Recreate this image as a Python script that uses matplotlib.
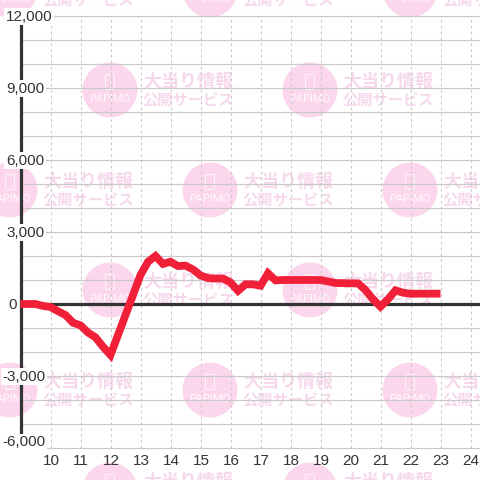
import matplotlib
matplotlib.use("Agg")
import matplotlib.pyplot as plt
from matplotlib.patches import Circle, FancyBboxPatch

hours = [9, 9.25, 9.5, 9.75, 10, 10.25, 10.5, 10.75, 11, 11.25, 11.5, 11.75, 12,
         12.25, 12.5, 12.75, 13, 13.25, 13.5, 13.75, 14, 14.25, 14.5, 14.75, 15,
         15.25, 15.5, 15.75, 16, 16.25, 16.5, 16.75, 17, 17.25, 17.5, 17.75, 18,
         18.25, 18.5, 18.75, 19, 19.25, 19.5, 19.75, 20, 20.25, 20.5, 20.75, 21,
         21.25, 21.5, 21.75, 22, 22.25, 22.5, 22.75, 23]
values = [0, 0, 0, -80, -125, -300, -460, -780, -890, -1190, -1390, -1780, -2125,
          -1290, -460, 375, 1210, 1760, 2000, 1670, 1760, 1580, 1600, 1440, 1190,
          1080, 1060, 1060, 900, 550, 820, 820, 760, 1280, 985, 1000, 1000,
          1000, 1000, 1000, 1000, 940, 875, 870, 860, 860, 580, 195, -110,
          195, 570, 470, 430, 430, 430, 430, 430]
y_ticks = [12000, 9000, 6000, 3000, 0, -3000, -6000]
y_labels = ["12,000", "9,000", "6,000", "3,000", "0", "-3,000", "-6,000"]
x_ticks = list(range(10, 25))
grid_y = list(range(-6000, 13000, 1000))
wm_title = "大当り情報"
wm_sub = "公開サービス"
wm_logo = "PAPIMO"

GRID = "#c9c9c9"
AXIS = "#333333"
RED = "#f02038"
TXT = "#333333"
PINK = "#fbd6ec"
WM_TXT = "#f6d9ec"
CJK = ["Noto Sans CJK JP", "DejaVu Sans"]

fig = plt.figure(figsize=(4.8, 4.8), dpi=100, facecolor="white")

# watermark layer in pixel coordinates
bg = fig.add_axes([0, 0, 1, 1], zorder=0)
bg.set_xlim(0, 480)
bg.set_ylim(480, 0)
bg.axis("off")
for row, cy in enumerate(range(-10, 500, 100)):
    cxs = [10, 210, 410] if row % 2 == 0 else [110, 310]
    for cx in cxs:
        bg.add_patch(Circle((cx, cy), 27.5, fc=PINK, ec="none"))
        bg.add_patch(FancyBboxPatch((cx - 4, cy - 15), 8, 14,
                                    boxstyle="round,pad=0.5,rounding_size=1.5",
                                    fc="none", ec="#fff4fa", lw=0.8))
        bg.text(cx, cy + 9.5, wm_logo, ha="center", va="center", color="#fff8fc",
                fontsize=8.0, family="Roboto")
        bg.text(cx + 78.5, cy - 8.5, wm_title, ha="center", va="center", color=WM_TXT,
                fontsize=13, family=CJK, fontweight="bold")
        bg.text(cx + 78.5, cy + 10, wm_sub, ha="center", va="center", color=WM_TXT,
                fontsize=11, family=CJK, fontweight="bold")

# chart layer: 30 px per hour, 24 px per 1000
ax = fig.add_axes([0, 0, 1, 1], zorder=1)
ax.patch.set_alpha(0)
ax.set_xlim(10 - 50.5 / 30, 10 + (480 - 50.5) / 30)
ax.set_ylim(-176 / 24 * 1000, 304 / 24 * 1000)
ax.axis("off")

for g in grid_y:
    ax.plot([9, 25], [g, g], color=GRID, lw=0.85, zorder=1, solid_capstyle="butt")
for h in x_ticks:
    ax.plot([h, h], [-6000, 12000], color=GRID, lw=0.75, ls=(0, (2.6, 3)), zorder=1)

ax.plot([9, 25], [0, 0], color=AXIS, lw=2.3, zorder=2, solid_capstyle="butt")
ax.plot([9, 9], [-6000, 12000], color=AXIS, lw=2.3, zorder=2, solid_capstyle="butt")
ax.plot(hours, values, color=RED, lw=5.6, zorder=3, solid_capstyle="butt",
        solid_joinstyle="miter")

label_font = dict(family="Liberation Sans", fontsize=11, color=TXT, va="center", ha="left")
bbox = dict(fc="white", ec="none", pad=1.2)
left_px = {"12,000": 6, "9,000": 6, "6,000": 6, "3,000": 6, "0": 8, "-3,000": 2.5, "-6,000": 2.5}
dy_px = {"-6,000": 6.5}
for v, s in zip(y_ticks, y_labels):
    yy = v + (dy_px.get(s, 0) - 0.8) / 24 * 1000
    ax.text(10 + (left_px[s] - 50.5) / 30, yy, s, zorder=4, bbox=bbox, **label_font)
for h in x_ticks:
    ax.text(h + 0.02, -6540, str(h), family="Liberation Sans", fontsize=11, color=TXT,
            ha="center", va="center", zorder=4)

fig.savefig("out.png", dpi=100, facecolor="white")
